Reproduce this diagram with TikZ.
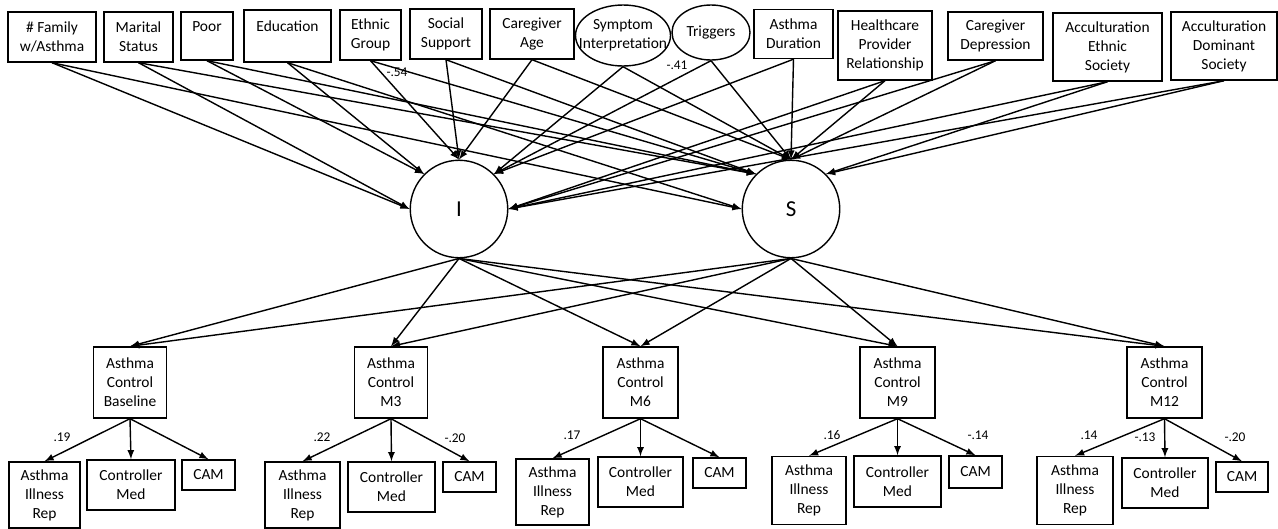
\documentclass[tikz,border=0pt]{standalone}
\usepackage{fontspec}
\setmainfont{Carlito}
\usetikzlibrary{positioning, arrows, shapes.geometric}

\begin{document}
\begin{tikzpicture}[x=0.02cm, y=-0.02cm,
        txt/.style={align=center, font=\fontsize{8.8}{10.8}\selectfont},
        box/.style={draw, rectangle, txt, inner sep=1pt},
        oval/.style={draw, ellipse, txt, inner sep=0pt},
        latent/.style={draw, circle, minimum size=1.95cm, font=\fontsize{13}{15}\selectfont},
        coef/.style={font=\fontsize{7.6}{9}\selectfont, inner sep=0pt},
        >=latex, line width=0.8pt]

        \useasboundingbox (0,0) rectangle (1278,528);

        % Preditores
        \node (fam) [box, minimum width=1.76cm, minimum height=1.0cm] at (52,37) {\# Family\\w/Asthma};
        \node (marital) [box, minimum width=1.38cm, minimum height=1.0cm] at (138.5,37) {Marital\\Status};
        \node (poor) [box, minimum width=1.04cm, minimum height=0.96cm] at (207,36) {Poor\\~};
        \node (edu) [box, minimum width=1.74cm, minimum height=1.04cm] at (287.5,36) {Education\\~};
        \node (ethnic) [box, minimum width=1.22cm, minimum height=1.0cm] at (370.5,35) {Ethnic\\Group};
        \node (social) [box, minimum width=1.44cm, minimum height=1.0cm] at (446,34) {Social\\Support};
        \node (cgage) [box, minimum width=1.68cm, minimum height=1.0cm] at (532,34) {Caregiver\\Age};
        \node (symp) [oval, inner xsep=-6pt, minimum width=1.9cm, minimum height=1.22cm] at (623,35.5) {Symptom\\Interpretation};
        \node (trig) [oval, minimum width=1.56cm, minimum height=1.1cm] at (711,32.5) {Triggers};
        \node (dur) [box, minimum width=1.58cm, minimum height=0.98cm] at (793.5,34) {Asthma\\Duration};
        \node (hcp) [box, minimum width=1.88cm, minimum height=1.38cm] at (885,45.5) {Healthcare\\Provider\\Relationship};
        \node (cgdep) [box, minimum width=1.9cm, minimum height=0.96cm] at (995.5,36) {Caregiver\\Depression};
        \node (acceth) [box, minimum width=2.18cm, minimum height=1.36cm] at (1107.5,47) {Acculturation\\Ethnic\\Society};
        \node (accdom) [box, minimum width=2.12cm, minimum height=1.36cm] at (1224,46) {Acculturation\\Dominant\\Society};

        % Fatores latentes
        \node (I) [latent] at (459,209) {I};
        \node (S) [latent] at (791,209) {S};

        % Controle da asma
        \node (ac0) [box, minimum width=1.46cm, minimum height=1.42cm] at (130,382.5) {Asthma\\Control\\Baseline};
        \node (ac3) [box, minimum width=1.46cm, minimum height=1.42cm] at (391,382.5) {Asthma\\Control\\M3};
        \node (ac6) [box, minimum width=1.5cm, minimum height=1.42cm] at (640.5,382.5) {Asthma\\Control\\M6};
        \node (ac9) [box, minimum width=1.5cm, minimum height=1.42cm] at (897.5,382.5) {Asthma\\Control\\M9};
        \node (ac12) [box, minimum width=1.5cm, minimum height=1.42cm] at (1164.5,382.5) {Asthma\\Control\\M12};

        % Desfechos
        \node (air0) [box, minimum width=1.42cm, minimum height=1.32cm] at (44.5,495) {Asthma\\Illness\\Rep};
        \node (cm0) [box, minimum width=1.76cm, minimum height=1.0cm] at (131,485) {Controller\\Med};
        \node (cam0) [box, minimum width=1.06cm, minimum height=0.6cm] at (208.5,475) {CAM};
        \node (air3) [box, minimum width=1.5cm, minimum height=1.32cm] at (302.5,495) {Asthma\\Illness\\Rep};
        \node (cm3) [box, minimum width=1.74cm, minimum height=1.0cm] at (391.5,487) {Controller\\Med};
        \node (cam3) [box, minimum width=1.06cm, minimum height=0.6cm] at (469.5,477) {CAM};
        \node (air6) [box, minimum width=1.46cm, minimum height=1.32cm] at (552.5,492) {Asthma\\Illness\\Rep};
        \node (cm6) [box, minimum width=1.7cm, minimum height=1.0cm] at (640.5,482) {Controller\\Med};
        \node (cam6) [box, minimum width=1.06cm, minimum height=0.6cm] at (719.5,473) {CAM};
        \node (air9) [box, minimum width=1.48cm, minimum height=1.36cm] at (809,490.5) {Asthma\\Illness\\Rep};
        \node (cm9) [box, minimum width=1.74cm, minimum height=1.02cm] at (897.5,481.5) {Controller\\Med};
        \node (cam9) [box, minimum width=1.06cm, minimum height=0.64cm] at (975.5,472) {CAM};
        \node (air12) [box, minimum width=1.52cm, minimum height=1.36cm] at (1075,490.5) {Asthma\\Illness\\Rep};
        \node (cm12) [box, minimum width=1.72cm, minimum height=1.0cm] at (1165,483) {Controller\\Med};
        \node (cam12) [box, minimum width=1.04cm, minimum height=0.6cm] at (1242,477) {CAM};

        % Preditores -> I
        \draw[->] (fam.south) -- (I.180);
        \draw[->] (marital.south) -- (I.180);
        \draw[->] (poor.south) -- (I.135);
        \draw[->] (edu.south) -- (I.135);
        \draw[->] (ethnic.south) -- (I.north);
        \draw[->] (social.south) -- (I.north);
        \draw[->] (cgage.south) -- (I.north);
        \draw[->] (symp.south) -- (I.45);
        \draw[->] (trig.south) -- (I.45);
        \draw[->] (dur.south) -- (I.45);
        \draw[->] (hcp.south) -- (I.0);
        \draw[->] (cgdep.south) -- (I.0);
        \draw[->] (acceth.south) -- (I.0);
        \draw[->] (accdom.south) -- (I.0);

        % Preditores -> S
        \draw[->] (fam.south) -- (S.180);
        \draw[->] (marital.south) -- (S.135);
        \draw[->] (poor.south) -- (S.135);
        \draw[->] (edu.south) -- (S.180);
        \draw[->] (ethnic.south) -- (S.135);
        \draw[->] (social.south) -- (S.135);
        \draw[->] (cgage.south) -- (S.north);
        \draw[->] (symp.south) -- (S.north);
        \draw[->] (trig.south) -- (S.north);
        \draw[->] (dur.south) -- (S.north);
        \draw[->] (hcp.south) -- (S.north);
        \draw[->] (cgdep.south) -- (S.north);
        \draw[->] (acceth.south) -- (S.45);
        \draw[->] (accdom.south) -- (S.45);

        \node (w54) [coef] at (397,72) {-.54};
        \node (w41) [coef] at (677,65) {-.41};

        % I e S -> controle
        \draw[->] (I.south) -- (ac0.north);
        \draw[->] (I.south) -- (ac3.north);
        \draw[->] (I.south) -- (ac6.north);
        \draw[->] (I.south) -- (ac9.north);
        \draw[->] (I.south) -- (ac12.north);
        \draw[->] (S.south) -- (ac0.north);
        \draw[->] (S.south) -- (ac3.north);
        \draw[->] (S.south) -- (ac6.north);
        \draw[->] (S.south) -- (ac9.north);
        \draw[->] (S.south) -- (ac12.north);

        % Controle -> desfechos
        \draw[->] (ac0.south) -- (air0.north);
        \draw[->] (ac0.south) -- (cm0.north);
        \draw[->] (ac0.south) -- (cam0.north);
        \draw[->] (ac3.south) -- (air3.north);
        \draw[->] (ac3.south) -- (cm3.north);
        \draw[->] (ac3.south) -- (cam3.north);
        \draw[->] (ac6.south) -- (air6.north);
        \draw[->] (ac6.south) -- (cm6.north);
        \draw[->] (ac6.south) -- (cam6.north);
        \draw[->] (ac9.south) -- (air9.north);
        \draw[->] (ac9.south) -- (cm9.north);
        \draw[->] (ac9.south) -- (cam9.north);
        \draw[->] (ac12.south) -- (air12.north);
        \draw[->] (ac12.south) -- (cm12.north);
        \draw[->] (ac12.south) -- (cam12.north);

        % Coeficientes
        \node (w19) [coef] at (62,437) {.19};
        \node (w22) [coef] at (322,437) {.22};
        \node (w20a) [coef] at (455,438) {-.20};
        \node (w17) [coef] at (572,435) {.17};
        \node (w16) [coef] at (832,435) {.16};
        \node (w14a) [coef] at (978,435) {-.14};
        \node (w14) [coef] at (1089,435) {.14};
        \node (w13) [coef] at (1145,437) {-.13};
        \node (w20b) [coef] at (1235,437) {-.20};

    \end{tikzpicture}
\end{document}
